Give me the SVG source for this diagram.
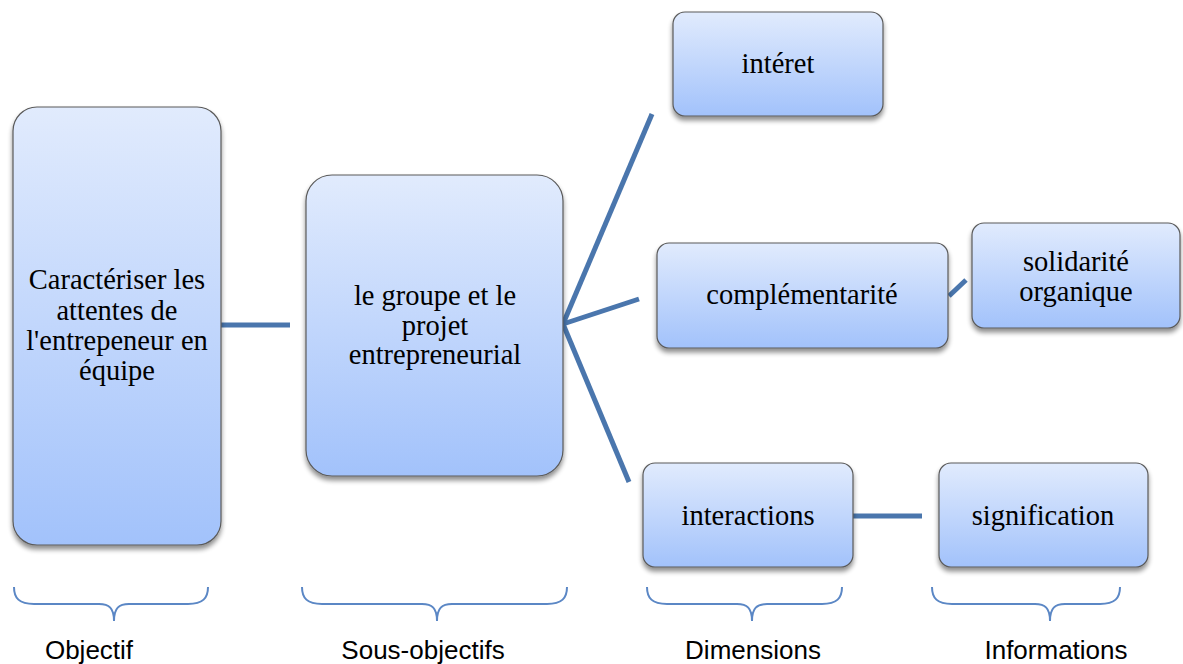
<svg xmlns="http://www.w3.org/2000/svg" width="1183" height="664" viewBox="0 0 1183 664">
<defs>
<linearGradient id="g" x1="0" y1="0" x2="0" y2="1">
<stop offset="0" stop-color="#e1ebfd"/>
<stop offset="1" stop-color="#a2c2fb"/>
</linearGradient>
<filter id="sh" x="-10%" y="-10%" width="120%" height="125%">
<feGaussianBlur in="SourceAlpha" stdDeviation="2.5"/>
<feOffset dx="0" dy="4" result="b"/>
<feComponentTransfer><feFuncA type="linear" slope="0.45"/></feComponentTransfer>
<feMerge><feMergeNode/><feMergeNode in="SourceGraphic"/></feMerge>
</filter>
</defs>
<style>
.box{fill:url(#g);stroke:#5a5a5a;stroke-width:1.2;filter:url(#sh)}
.t{font-family:"Liberation Serif","Times New Roman",serif;font-size:28.5px;fill:#000;text-anchor:middle}
.c{stroke:#4a76ad;stroke-width:5;fill:none}
.br{stroke:#5b87c5;stroke-width:2;fill:none}
.lb{font-family:"Liberation Sans",Arial,sans-serif;font-size:26px;fill:#000;text-anchor:middle}
</style>
<g id="connectors">
<line class="c" x1="221" y1="325" x2="290" y2="325"/>
<line class="c" x1="563" y1="324" x2="652" y2="114"/>
<line class="c" x1="563" y1="324" x2="639" y2="299"/>
<line class="c" x1="563" y1="324" x2="629" y2="482"/>
<line class="c" x1="949" y1="296" x2="966" y2="280"/>
<line class="c" x1="853" y1="516" x2="922" y2="516"/>
</g>
<g id="n-objectif">
<rect class="box" x="13" y="107" width="208" height="438" rx="24"/>
<text class="t" x="117" y="289">Caractériser les</text>
<text class="t" x="117" y="320">attentes de</text>
<text class="t" x="117" y="350">l'entrepeneur en</text>
<text class="t" x="117" y="380">équipe</text>
</g>
<g id="n-groupe">
<rect class="box" x="306" y="175" width="257" height="301" rx="26"/>
<text class="t" x="435" y="305">le groupe et le</text>
<text class="t" x="435" y="335">projet</text>
<text class="t" x="435" y="364">entrepreneurial</text>
</g>
<g id="n-interet">
<rect class="box" x="673" y="12" width="210" height="104" rx="12"/>
<text class="t" x="778" y="73">intéret</text>
</g>
<g id="n-complementarite">
<rect class="box" x="657" y="243" width="291" height="105" rx="12"/>
<text class="t" x="802" y="304">complémentarité</text>
</g>
<g id="n-solidarite">
<rect class="box" x="972" y="223" width="208" height="105" rx="12"/>
<text class="t" x="1076" y="271">solidarité</text>
<text class="t" x="1076" y="301">organique</text>
</g>
<g id="n-interactions">
<rect class="box" x="643" y="463" width="210" height="104" rx="12"/>
<text class="t" x="748" y="525">interactions</text>
</g>
<g id="n-signification">
<rect class="box" x="939" y="463" width="209" height="104" rx="12"/>
<text class="t" x="1043" y="525">signification</text>
</g>
<g id="braces">
<path class="br" d="M14 587 C14 598 19 604 34 604 L99 604 C109 604 114 608 114 621 C114 608 119 604 129 604 L188 604 C203 604 208 598 208 587"/>
<path class="br" d="M302 587 C302 598 307 604 322 604 L422 604 C432 604 437 608 437 621 C437 608 442 604 452 604 L547 604 C562 604 567 598 567 587"/>
<path class="br" d="M647 587 C647 598 652 604 667 604 L737 604 C747 604 752 608 752 621 C752 608 757 604 767 604 L822 604 C837 604 842 598 842 587"/>
<path class="br" d="M932 587 C932 598 937 604 952 604 L1035 604 C1045 604 1050 608 1050 621 C1050 608 1055 604 1065 604 L1100 604 C1115 604 1120 598 1120 587"/>
<text class="lb" x="89" y="659">Objectif</text>
<text class="lb" x="423" y="659">Sous-objectifs</text>
<text class="lb" x="753" y="659">Dimensions</text>
<text class="lb" x="1056" y="659">Informations</text>
</g>
</svg>
